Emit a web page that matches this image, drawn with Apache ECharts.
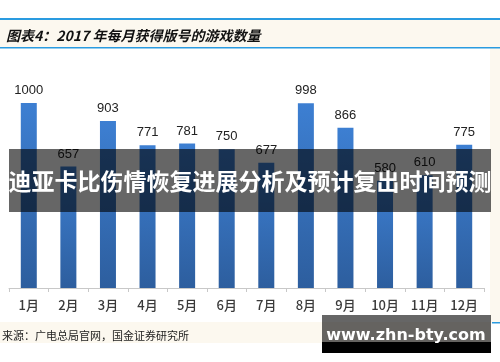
<!DOCTYPE html>
<html><head><meta charset="utf-8">
<script src="https://cdn.jsdelivr.net/npm/echarts@6/dist/echarts.min.js"></script>
<style>html,body{margin:0;padding:0;background:#fff}#c{width:500px;height:362px}</style>
</head><body><div id="c"></div>
<script>
const months = ['1月','2月','3月','4月','5月','6月','7月','8月','9月','10月','11月','12月'];
const games = [1000, 657, 903, 771, 781, 750, 677, 998, 866, 580, 610, 775];
const titleText = '图表4：2017 年每月获得版号的游戏数量';
const sourceText = '来源：广电总局官网，国金证券研究所';
const bannerText = '迪亚卡比伤情恢复进展分析及预计复出时间预测';
const markText = 'www.zhn-bty.com';

const chart = echarts.init(document.getElementById('c'), null, {renderer:'canvas'});
const beige = '#fcf8ef';
chart.setOption({
  backgroundColor: '#ffffff',
  animation: false,
  title: {
    text: titleText, left: 1, top: 24,
    textStyle: {fontFamily: 'Noto Sans CJK SC', fontSize: 14, fontWeight: 'bold', fontStyle: 'italic', color: '#111'}
  },
  grid: {left: 9, right: 16, top: 103, bottom: 74, containLabel: false},
  xAxis: {
    type: 'category', data: months,
    axisLine: {lineStyle: {color: '#c8c8c8', width: 1}},
    axisTick: {show: true, length: 4, lineStyle: {color: '#c8c8c8'}},
    axisLabel: {margin: 11, fontSize: 13, color: '#3a3a3a', fontFamily: 'Noto Sans CJK SC', fontWeight: 500}
  },
  yAxis: {type: 'value', min: 0, max: 1000, show: false, splitLine: {show: false}},
  series: [{
    type: 'bar', data: games, barWidth: 16,
    itemStyle: {color: new echarts.graphic.LinearGradient(0,0,0,1,[{offset:0,color:'#3d7fd2'},{offset:1,color:'#2d5e9e'}])},
    label: {show: true, position: 'top', distance: 6, fontSize: 13, color: '#222', fontFamily: 'Liberation Sans'}
  }],
  graphic: [
    {type:'rect', z:-100, silent:true, shape:{x:0,y:20,width:500,height:27}, style:{fill:beige}},
    {type:'rect', z:-99, silent:true, shape:{x:0,y:18,width:500,height:2}, style:{fill:'#2a9be0'}},
    {type:'rect', z:-99, silent:true, shape:{x:0,y:47,width:500,height:1.5}, style:{fill:'#2a9be0'}},
    {type:'rect', z:-100, silent:true, shape:{x:490,y:48,width:10,height:275}, style:{fill:beige}},
    {type:'rect', z:-100, silent:true, shape:{x:0,y:322,width:490,height:21}, style:{fill:beige}},
    {type:'rect', z:-99, silent:true, shape:{x:492,y:322,width:8,height:1.5}, style:{fill:'#2a9be0'}},
    {type:'text', z:-98, silent:true, left:2, top:330, style:{text:sourceText, fontSize:11, fill:'#222', fontFamily:'Noto Sans CJK SC'}},
    {type:'rect', z:100, silent:true, shape:{x:9,y:149,width:482,height:63}, style:{fill:'rgba(0,0,0,0.6)'}},
    {type:'text', z:101, silent:true, x:250, y:181, style:{text:bannerText, fontSize:23, fontWeight:'bold', fill:'#fff', fontFamily:'Noto Sans CJK SC', align:'center', verticalAlign:'middle'}},
    {type:'rect', z:100, silent:true, shape:{x:322,y:315,width:169,height:38}, style:{fill:'rgba(0,0,0,0.6)'}},
    {type:'rect', z:100, silent:true, shape:{x:322,y:342,width:169,height:11}, style:{fill:'#000'}},
    {type:'text', z:101, silent:true, x:406, y:336, style:{text:markText, fontSize:16, fontWeight:'bold', fill:'#fff', fontFamily:'DejaVu Sans', align:'center', verticalAlign:'middle'}}
  ]
});
</script></body></html>
